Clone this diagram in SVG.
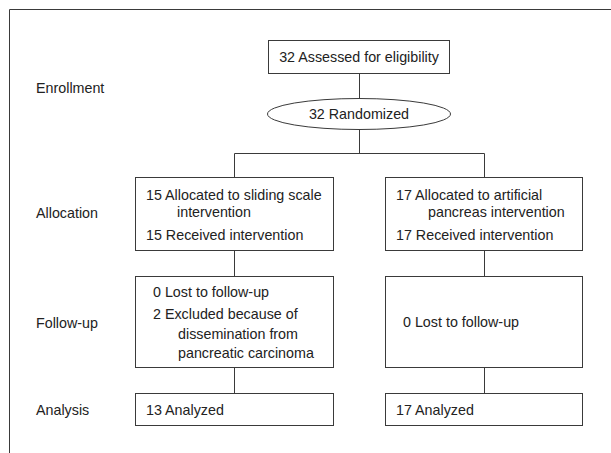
<svg xmlns="http://www.w3.org/2000/svg" width="611" height="453" viewBox="0 0 611 453">
<style>
.bx{fill:#fff;stroke:#3a3a3a;stroke-width:1}
.ln{fill:none;stroke:#3a3a3a;stroke-width:1}
text{font-family:"Liberation Sans",Arial,sans-serif;font-size:14.3px;fill:#222}
.c{text-anchor:middle}
</style>
<rect width="611" height="453" fill="#fff"/>
<g id="frame"><path class="ln" d="M9.5,453 V9.5 H611"/></g>
<g id="labels">
<text x="36" y="93">Enrollment</text>
<text x="36" y="218">Allocation</text>
<text x="36" y="328">Follow-up</text>
<text x="36" y="415">Analysis</text>
</g>
<g id="connectors">
<path class="ln" d="M359.5,74 V98 M359.5,130 V153.5 M234.5,153.5 H484.5 M234.5,153.5 V177 M484.5,153.5 V177 M234.5,251 V276 M484.5,251 V276 M234.5,368 V393 M484.5,368 V393"/>
</g>
<g id="assessed">
<rect class="bx" x="268.5" y="40.5" width="181" height="33"/>
<text class="c" x="359" y="62">32 Assessed for eligibility</text>
</g>
<g id="randomized">
<ellipse class="bx" cx="359" cy="114" rx="91.5" ry="15.5"/>
<text class="c" x="359" y="119">32 Randomized</text>
</g>
<g id="alloc-left">
<rect class="bx" x="135.5" y="177.5" width="198" height="73"/>
<text x="146" y="200">15 Allocated to sliding scale</text>
<text x="177" y="217">intervention</text>
<text x="146" y="240">15 Received intervention</text>
</g>
<g id="alloc-right">
<rect class="bx" x="385.5" y="177.5" width="197" height="73"/>
<text x="396" y="200">17 Allocated to artificial</text>
<text x="428" y="217">pancreas intervention</text>
<text x="396" y="240">17 Received intervention</text>
</g>
<g id="follow-left">
<rect class="bx" x="135.5" y="276.5" width="198" height="91"/>
<text x="153" y="297">0 Lost to follow-up</text>
<text x="153" y="319">2 Excluded because of</text>
<text x="178" y="339">dissemination from</text>
<text x="178" y="358">pancreatic carcinoma</text>
</g>
<g id="follow-right">
<rect class="bx" x="385.5" y="276.5" width="197" height="91"/>
<text x="403" y="327">0 Lost to follow-up</text>
</g>
<g id="analysis-left">
<rect class="bx" x="135.5" y="393.5" width="198" height="32"/>
<text x="146" y="415">13 Analyzed</text>
</g>
<g id="analysis-right">
<rect class="bx" x="385.5" y="393.5" width="197" height="32"/>
<text x="396" y="415">17 Analyzed</text>
</g>
</svg>
